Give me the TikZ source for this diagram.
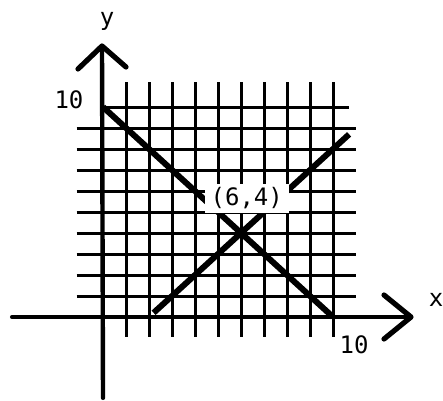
\documentclass[tikz,border=0pt]{standalone}
\usepackage{fontspec}
\usetikzlibrary{calc}
\newfontfamily\monofam{DejaVu Sans Mono}
\begin{document}
\begin{tikzpicture}[x=23pt,y=21pt,
  gridline/.style={line width=3pt},
  axisline/.style={line width=4.4pt,line cap=round},
  tipline/.style={line width=5.2pt,line cap=round,line join=round},
  diagline/.style={line width=6pt},
  lbl/.style={font=\monofam\fontsize{24}{24}\selectfont,inner sep=0pt},
  ptlbl/.style={font=\monofam\fontsize{24}{24}\selectfont,fill=white,inner xsep=6pt,inner ysep=4pt}]
\useasboundingbox (-103pt,-83pt) rectangle (340pt,317pt);
% grid
\foreach \i in {1,...,10} \draw[gridline] (\i,-0.95) -- (\i,11.2);
\foreach \j in {1,...,9} \draw[gridline] (-1.15,\j) -- (11.0,\j);
\draw[gridline] (0,10) -- (10.7,10);
% axes
\coordinate (xs) at (-3.95,0);
\coordinate (xe) at (308pt,0pt);
\coordinate (ys) at (0,-3.85);
\coordinate (ye) at (-1pt,271pt);
\draw[axisline] (xs) -- (xe);
\draw[axisline] (ys) -- (ye);
\draw[tipline] ($(xe)+(-27pt,22pt)$) -- (xe) -- ($(xe)+(-27pt,-22pt)$);
\draw[tipline] ($(ye)+(-24pt,-23pt)$) -- (ye) -- ($(ye)+(24pt,-21pt)$);
% lines
\coordinate (a1) at (0,10);
\coordinate (a2) at (10,0);
\coordinate (b1) at (2.2,0.2);
\coordinate (b2) at (10.7,8.7);
\draw[diagline] (a1) -- (a2);
\draw[diagline] (b1) -- (b2);
% labels
\node[ptlbl] (p) at (6.25,5.65) {(6,4)};
\node[lbl] (ylab) at (4pt,296pt) {y};
\node[lbl] (xlab) at (333pt,17pt) {x};
\node[lbl] (y10) at (-34pt,217pt) {10};
\node[lbl] (x10) at (251pt,-28pt) {10};
\end{tikzpicture}
\end{document}
